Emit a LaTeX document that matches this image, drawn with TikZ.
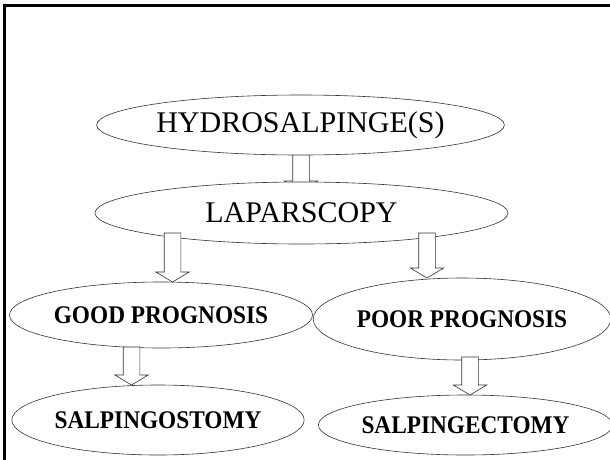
\documentclass[tikz,border=0pt]{standalone}
\usepackage{fontspec}
\setmainfont{Liberation Serif}
\usetikzlibrary{shapes.geometric,calc}
\pgfdeclarelayer{behind}
\pgfsetlayers{behind,main}
\newcommand{\blockarr}[3][]{%
  \path[blockarrow,#1] let \p1=#2, \p2=#3 in
   (\x1-8.3pt,\y1) -- (\x1-8.3pt,\y2+10pt) -- (\x1-16.7pt,\y2+10pt) -- (\x1,\y2)
   -- (\x1+16.7pt,\y2+10pt) -- (\x1+8.3pt,\y2+10pt) -- (\x1+8.3pt,\y1) -- cycle;}
\newcommand{\tallbf}[1]{\scalebox{1}[1.09]{#1}}
\begin{document}
\begin{tikzpicture}[x=1pt,y=-1pt,
  oval/.style={ellipse, draw=black!80, line width=0.6pt, fill=white, inner sep=0pt, outer sep=0pt},
  bigtxt/.style={font=\fontsize{30}{31}\selectfont},
  boldtxt/.style={font=\fontsize{23.3}{24}\selectfont\bfseries},
  blockarrow/.style={draw=black!80, line width=0.6pt, fill=white}]
\useasboundingbox (0,0) rectangle (610,459);
\begin{scope}
  \clip (0,0) rectangle (610,459);
  \draw[line width=2.5pt] (4.5,5.5) rectangle (640,490);
\end{scope}

\node[oval, bigtxt, minimum width=403pt, minimum height=60pt] (hyd) at (300.5,125) {HYDROSALPINGE(S)};
\node[oval, bigtxt, minimum width=413pt, minimum height=62pt] (lap) at (301.5,213) {LAPARSCOPY};
\node[oval, boldtxt, minimum width=282pt, minimum height=66pt] (good) at (161,315) {\tallbf{GOOD PROGNOSIS}};
\node[oval, boldtxt, minimum width=286pt, minimum height=82pt] (poor) at (462,319) {\tallbf{POOR PROGNOSIS}};
\node[oval, boldtxt, minimum width=282pt, minimum height=70pt] (ostomy) at (158,420) {\tallbf{SALPINGOSTOMY}};
\node[oval, boldtxt, minimum width=271pt, minimum height=60pt] (ectomy) at (465.5,425) {\tallbf{SALPINGECTOMY}};

\begin{pgfonlayer}{behind}
  \blockarr{($(hyd.south)+(0.5,-3)$)}{($(lap.north)+(0,9)$)}
\end{pgfonlayer}
\blockarr{($(lap.center)+(-129,20)$)}{(good.north)}
\blockarr{($(lap.center)+(125.5,20)$)}{(poor.north)}
\blockarr{($(good.center)+(-29.5,32)$)}{(ostomy.north)}
\blockarr{($(poor.center)+(8,38)$)}{(ectomy.north)}
\end{tikzpicture}
\end{document}
